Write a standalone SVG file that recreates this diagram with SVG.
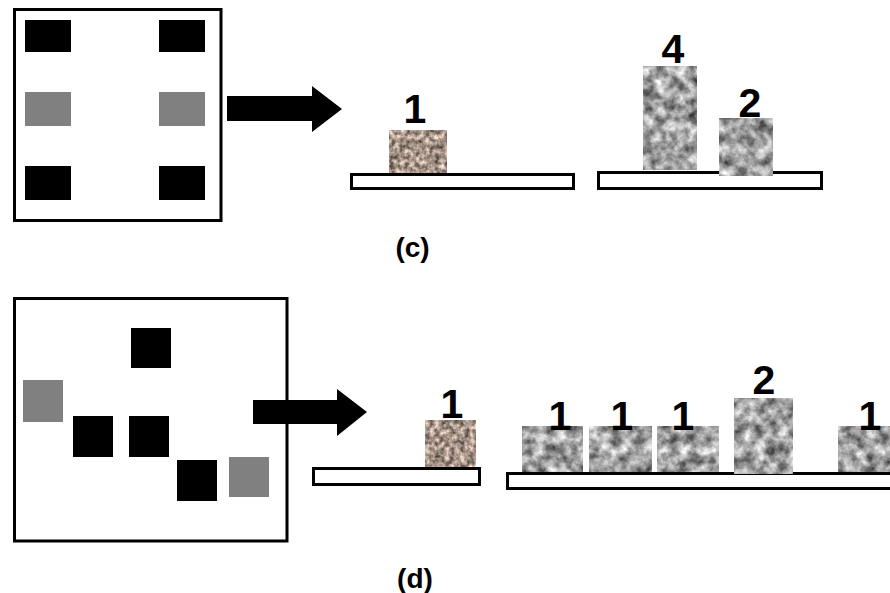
<svg xmlns="http://www.w3.org/2000/svg" width="890" height="593" viewBox="0 0 890 593">
  <style>
    .frame { fill: #ffffff; stroke: #000000; stroke-width: 3; }
    .dark { fill: #000000; }
    .mid { fill: #808080; }
    .shelf { fill: #ffffff; stroke: #000000; stroke-width: 3; }
    .count { font-family: "Liberation Sans", Arial, sans-serif; font-weight: bold; font-size: 41px; fill: #000000; text-anchor: middle; }
    .caption { font-family: "Liberation Sans", Arial, sans-serif; font-weight: bold; font-size: 28px; fill: #000000; text-anchor: middle; }
    .arrow { fill: #000000; }
  </style>
  <defs>
    <!-- mottled grey stone texture -->
    <filter id="granite" x="0" y="0" width="1" height="1" color-interpolation-filters="sRGB">
      <feTurbulence type="fractalNoise" baseFrequency="0.09" numOctaves="4" seed="7" result="n"/>
      <feColorMatrix in="n" type="matrix" values="1.1 0 0 0 0.08  1.1 0 0 0 0.08  1.1 0 0 0 0.08  0 0 0 0 1"/>
      <feComposite in2="SourceGraphic" operator="in"/>
    </filter>
    <!-- brown gravel texture -->
    <filter id="gravel" x="0" y="0" width="1" height="1" color-interpolation-filters="sRGB">
      <feTurbulence type="fractalNoise" baseFrequency="0.2" numOctaves="3" seed="3" result="n"/>
      <feColorMatrix in="n" type="matrix" values="1.1 0 0 0 0.1  1.0 0 0 0 0.08  0.95 0 0 0 0.06  0 0 0 0 1"/>
      <feComposite in2="SourceGraphic" operator="in"/>
    </filter>
  </defs>

  <rect width="890" height="593" fill="#ffffff"/>

  <!-- panel (c): layout -->
  <g id="layout-c">
    <rect class="frame" x="14.5" y="9.5" width="206.5" height="211"/>
    <rect class="dark" x="25" y="20" width="46" height="32"/>
    <rect class="dark" x="159" y="20" width="46" height="32"/>
    <rect class="mid" x="25" y="92" width="46" height="34"/>
    <rect class="mid" x="159" y="92" width="46" height="34"/>
    <rect class="dark" x="25" y="166" width="46" height="34"/>
    <rect class="dark" x="159" y="166" width="46" height="34"/>
  </g>

  <!-- panel (d): layout -->
  <g id="layout-d">
    <rect class="frame" x="14.5" y="298.5" width="272.5" height="242.5"/>
    <rect class="dark" x="131" y="328" width="40" height="40"/>
    <rect class="mid" x="23" y="380" width="40" height="42"/>
    <rect class="dark" x="73" y="416" width="40" height="41"/>
    <rect class="dark" x="129" y="416" width="40" height="41"/>
    <rect class="dark" x="177" y="460" width="40" height="41"/>
    <rect class="mid" x="229" y="457" width="40" height="40"/>
  </g>

  <!-- arrows -->
  <g id="connectors">
    <polygon class="arrow" points="227,96 312,96 312,86 342,109 312,132 312,121 227,121"/>
    <polygon class="arrow" points="253,400 337,400 337,389 367,412 337,436 337,424 253,424"/>
  </g>

  <!-- panel (c): stacks -->
  <g id="stack-c-left">
    <rect class="shelf" x="351.5" y="174.5" width="222" height="14"/>
    <rect x="389" y="130" width="58" height="43" fill="#a8988a" filter="url(#gravel)"/>
    <text class="count" x="415" y="123">1</text>
  </g>
  <g id="stack-c-right">
    <rect class="shelf" x="598.5" y="172.5" width="223" height="16"/>
    <rect x="643" y="66" width="54" height="104" fill="#9a9a9a" filter="url(#granite)"/>
    <rect x="719" y="118" width="54" height="58" fill="#9a9a9a" filter="url(#granite)"/>
    <text class="count" x="673" y="63">4</text>
    <text class="count" x="750" y="117">2</text>
  </g>

  <!-- panel (d): stacks -->
  <g id="stack-d-left">
    <rect class="shelf" x="313.5" y="468.5" width="166" height="16"/>
    <rect x="425" y="420" width="51" height="47" fill="#a8988a" filter="url(#gravel)"/>
    <text class="count" x="452" y="418">1</text>
  </g>
  <g id="stack-d-right">
    <rect class="shelf" x="507.5" y="473.5" width="390" height="15"/>
    <rect x="522" y="426" width="61" height="46" fill="#9a9a9a" filter="url(#granite)"/>
    <rect x="589" y="426" width="63" height="46" fill="#9a9a9a" filter="url(#granite)"/>
    <rect x="657" y="426" width="62" height="46" fill="#9a9a9a" filter="url(#granite)"/>
    <rect x="734" y="398" width="59" height="76" fill="#9a9a9a" filter="url(#granite)"/>
    <rect x="838" y="426" width="60" height="46" fill="#9a9a9a" filter="url(#granite)"/>
    <text class="count" x="560" y="430">1</text>
    <text class="count" x="622" y="430">1</text>
    <text class="count" x="683" y="430">1</text>
    <text class="count" x="764" y="394">2</text>
    <text class="count" x="870" y="430">1</text>
  </g>

  <!-- captions -->
  <g id="captions">
    <text class="caption" x="412.5" y="257">(c)</text>
    <text class="caption" x="415" y="588">(d)</text>
  </g>
</svg>
